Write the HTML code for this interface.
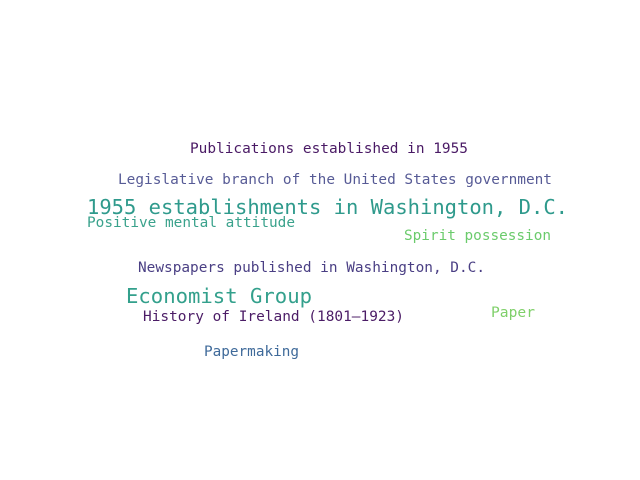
<!DOCTYPE html>
<html><head><meta charset="utf-8"><style>
html,body{margin:0;padding:0;background:#fff;}
svg{display:block;}
text{font-family:"DejaVu Sans Mono","Liberation Mono",monospace;}
</style></head><body>
<svg width="640" height="480">
<rect width="640" height="480" fill="#fff"/>
<g id="words"></g>
</svg>
<script>
const words=["Publications established in 1955","Legislative branch of the United States government","1955 establishments in Washington, D.C.","Positive mental attitude","Spirit possession","Newspapers published in Washington, D.C.","Economist Group","History of Ireland (1801–1923)","Paper","Papermaking"];
const sizes=[14.4,14.4,20.5,14.4,14.4,14.4,20.5,14.4,14.4,14.4];
const xs=[190,118,87,87,404,138,126,143,491,204];
const ys=[153,184,214,227,240,272,303,321,317,356];
const ws=[278,434,481,208,147,347,186,261,44,95];
const colors=["#4a1a65","#575b96","#2f9a8c","#3aa28c","#6bcb6c","#4a3f84","#33a08c","#4b1c66","#7fd06a","#3f6a9a"];
const g=document.getElementById('words');
words.forEach((w,i)=>{
  const t=document.createElementNS('http://www.w3.org/2000/svg','text');
  t.setAttribute('x',xs[i]);t.setAttribute('y',ys[i]);
  t.setAttribute('font-size',sizes[i]);t.setAttribute('fill',colors[i]);
  t.setAttribute('textLength',ws[i]);t.setAttribute('lengthAdjust','spacingAndGlyphs');
  
  
  t.textContent=w;g.appendChild(t);
});
</script>
</body></html>
